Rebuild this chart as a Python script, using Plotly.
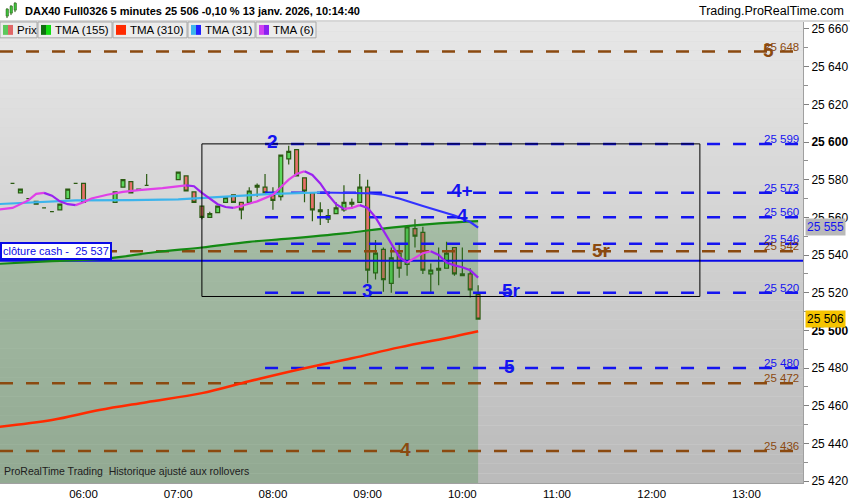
import plotly.graph_objects as go

DAY = "2026-01-13 "

# ---------------- data ----------------
candle_times = ["05:15", "05:20", "05:25", "05:30", "05:35", "05:40", "05:45", "05:50", "05:55", "06:00",
                "06:20", "06:25", "06:30", "06:35", "06:40",
                "07:00", "07:05", "07:10", "07:15", "07:20", "07:25", "07:30", "07:35", "07:40", "07:45", "07:50", "07:55",
                "08:00", "08:05", "08:10", "08:15", "08:20", "08:25", "08:30", "08:35", "08:40", "08:45", "08:50", "08:55",
                "09:00", "09:05", "09:10", "09:15", "09:20", "09:25", "09:30", "09:35", "09:40", "09:45", "09:50", "09:55",
                "10:00", "10:05", "10:10"]
opens = [25578, 25573, 25570, 25568.5, 25565, 25563, 25564, 25570, 25578, 25578,
         25568, 25576, 25579, 25575, 25577,
         25580, 25582, 25573.5, 25566, 25560, 25562.5, 25568, 25572, 25568, 25568, 25577, 25576,
         25571.5, 25571, 25591, 25596, 25581, 25573, 25563, 25559, 25562, 25564, 25567, 25568,
         25576, 25530.5, 25543, 25525, 25541, 25535, 25554, 25552, 25530, 25532, 25533, 25544,
         25530, 25530, 25519]
highs = [25578, 25575, 25570, 25568.5, 25565, 25563, 25567, 25575, 25578, 25578,
         25573.5, 25580, 25579, 25575, 25583,
         25584, 25582, 25573.5, 25566, 25563, 25566, 25570.5, 25572, 25568, 25576, 25578, 25583,
         25576, 25593, 25598, 25596, 25581, 25573, 25568, 25564.5, 25568, 25577, 25570, 25583,
         25580, 25548, 25544, 25544, 25546, 25555, 25559, 25555, 25535.5, 25544, 25547, 25544,
         25544, 25533, 25524]
lows = [25578, 25573, 25570, 25567, 25565, 25563, 25564, 25570, 25578, 25568,
        25568, 25576, 25573, 25574.5, 25577,
        25580, 25574, 25568, 25559, 25560, 25562.5, 25568, 25568, 25559, 25568, 25571, 25573,
        25564, 25569, 25588, 25582, 25568, 25558, 25556, 25557, 25562, 25563, 25564.5, 25568,
        25525, 25527, 25520.5, 25520, 25528, 25529, 25544, 25530, 25520, 25524, 25533, 25529,
        25529, 25517.5, 25506]
closes = [25578, 25575, 25570, 25567, 25565, 25563, 25567, 25575, 25578, 25568,
          25573.5, 25580, 25573, 25574.5, 25577,
          25584, 25574, 25568, 25560, 25562, 25566, 25570.5, 25568, 25564, 25574, 25576, 25573,
          25569, 25593, 25595, 25582, 25574, 25564, 25564, 25561, 25565, 25568, 25568, 25576,
          25532, 25541, 25527, 25538.5, 25533, 25555, 25550, 25532, 25532, 25533, 25541, 25530,
          25529, 25521.5, 25506]

tma6_times = ["05:05", "05:15", "05:25", "05:30", "05:35", "05:40", "05:45", "05:50", "05:55", "06:00",
              "06:05", "06:15", "06:25", "06:35", "06:50", "07:05", "07:10", "07:15", "07:20", "07:25",
              "07:30", "07:35", "07:40", "07:50", "08:00", "08:05", "08:10", "08:15", "08:20", "08:25",
              "08:30", "08:35", "08:40", "08:45", "08:50", "08:55", "09:00", "09:05", "09:10", "09:15",
              "09:20", "09:25", "09:30", "09:35", "09:40", "09:45", "09:50", "09:55", "10:00", "10:05", "10:10"]
tma6_vals = [25564, 25565, 25569, 25572.5, 25573, 25571.5, 25568.5, 25567, 25566.5, 25568,
             25570, 25572, 25573.5, 25574.5, 25575.5, 25577, 25576.5, 25573, 25570, 25567,
             25565.5, 25565, 25566, 25568.5, 25572, 25576, 25580, 25583, 25584.5, 25582.5,
             25578, 25572, 25567, 25564.5, 25565, 25566.5, 25565, 25560, 25553, 25546,
             25539, 25536, 25538.5, 25541, 25542, 25540, 25536, 25534.5, 25533.5, 25532, 25528]

tma31_times = ["05:05", "05:30", "05:55", "06:30", "07:00", "07:30", "08:00", "08:30", "08:45", "09:00",
               "09:10", "09:20", "09:35", "09:45", "09:55", "10:05", "10:10"]
tma31_vals = [25567, 25568, 25569, 25569.2, 25569.6, 25571, 25572.5, 25573.2, 25573.0, 25572.8,
              25572, 25570, 25566, 25563.5, 25561, 25557.5, 25554.5]

tma155_times = ["05:05", "05:40", "06:15", "06:45", "07:15", "07:45", "08:10", "08:45", "09:15", "09:45", "10:10"]
tma155_vals = [25535.3, 25536.8, 25538.2, 25541.5, 25544, 25547, 25548.7, 25551.5, 25554.6, 25556.8, 25558]

tma310_times = ["05:05", "05:40", "06:10", "06:40", "07:15", "07:45", "08:20", "08:50", "09:20", "09:55", "10:10"]
tma310_vals = [25448.7, 25452.4, 25457.7, 25461.9, 25466.7, 25473, 25479.9, 25485.2, 25491, 25496.8, 25499.5]

brown_levels = [25648, 25542, 25472, 25436]
blue_levels = [25599, 25573, 25560, 25546, 25520, 25480]
cash_close = 25537
blue_start = "07:55"
box_times = ["07:15", "12:30:30"]
box_prices = [25518, 25599]
last_price = 25506
tma_mark = 25555

blue_marks = [("2", "08:00", 25599), ("4+", "09:59:30", 25573), ("4", "10:00", 25560),
              ("3", "09:00", 25520), ("5r", "10:31", 25520), ("5", "10:30", 25480)]
brown_marks = [("5", "13:14", 25648), ("5r", "11:28", 25542), ("4", "09:24", 25436)]

y_ticks = list(range(25420, 25661, 20))
x_ticks = ["06:00", "07:00", "08:00", "09:00", "10:00", "11:00", "12:00", "13:00"]

# ---------------- layout helpers ----------------
W, H = 850, 500
ML, MR, MT, MB = 0, 47, 22, 12
PW, PH = W - ML - MR, H - MT - MB
FONT = "Liberation Sans, Arial, sans-serif"


def T(s):
    return DAY + s + (":00" if len(s) == 5 else "")


def px(x):
    return (x - ML) / PW


def py(y):
    return (H - MB - y) / PH


X0, X1 = T("05:07:05"), T("13:35:50")
Y0, Y1 = 25419.0, 25663.7

BLUE = "#1414f0"
BROWN = "#8b4a10"

fig = go.Figure()
shapes = []
annotations = []

# gradient background
N = 48
for i in range(N):
    f = i / (N - 1)
    c = int(231 - f * 44)
    shapes.append(dict(type="rect", xref="paper", yref="paper", x0=0, x1=1,
                       y0=1 - (i + 1) / N, y1=1 - i / N, fillcolor=f"rgb({c},{c},{c})",
                       line=dict(width=0), layer="below"))

# TMA155 shaded area
fig.add_trace(go.Scatter(x=[T(t) for t in tma155_times], y=tma155_vals, mode="none",
                         fill="tozeroy", fillcolor="rgba(40,125,40,0.27)", hoverinfo="skip",
                         line_shape="spline"))

# brown levels
for lv in brown_levels:
    fig.add_trace(go.Scatter(x=[X0, X1], y=[lv, lv], mode="lines",
                             line=dict(color=BROWN, width=2.5, dash="13px,13px"), hoverinfo="skip"))
# blue levels
for lv in blue_levels:
    fig.add_trace(go.Scatter(x=[T(blue_start), X1], y=[lv, lv], mode="lines",
                             line=dict(color=BLUE, width=2.5, dash="13px,13px"), hoverinfo="skip"))

# cash close line
fig.add_trace(go.Scatter(x=[X0, X1], y=[cash_close, cash_close], mode="lines",
                         line=dict(color="#0a0ae6", width=2), hoverinfo="skip"))

# TMA310 and TMA155 lines
fig.add_trace(go.Scatter(x=[T(t) for t in tma310_times], y=tma310_vals, mode="lines",
                         line=dict(color="#ff2a00", width=2.5, shape="spline"), hoverinfo="skip"))
fig.add_trace(go.Scatter(x=[T(t) for t in tma155_times], y=tma155_vals, mode="lines",
                         line=dict(color="#138a13", width=2.2, shape="spline"), hoverinfo="skip"))

# candles
fig.add_trace(go.Candlestick(
    x=[T(t) for t in candle_times], open=opens, high=highs, low=lows, close=closes,
    increasing=dict(line=dict(color="#2b5a12", width=1.2), fillcolor="#5cd65c"),
    decreasing=dict(line=dict(color="#2b5a12", width=1.2), fillcolor="#e8706a"),
    whiskerwidth=0, hoverinfo="skip"))


def slope_runs(times, vals):
    """split polyline into rising and falling runs"""
    up_x, up_y, dn_x, dn_y = [], [], [], []
    prev = None
    for i in range(len(vals) - 1):
        rising = vals[i + 1] > vals[i]
        tx, ty = (up_x, up_y) if rising else (dn_x, dn_y)
        if prev is None or prev != rising:
            if tx:
                tx.append(None)
                ty.append(None)
            tx.append(T(times[i]))
            ty.append(vals[i])
        tx.append(T(times[i + 1]))
        ty.append(vals[i + 1])
        prev = rising
    return up_x, up_y, dn_x, dn_y


ux, uy, dx, dy = slope_runs(tma31_times, tma31_vals)
fig.add_trace(go.Scatter(x=ux, y=uy, mode="lines", line=dict(color="#3cb4ec", width=2.2),
                         hoverinfo="skip", connectgaps=False))
fig.add_trace(go.Scatter(x=dx, y=dy, mode="lines", line=dict(color="#3232ff", width=2.2),
                         hoverinfo="skip", connectgaps=False))
ux, uy, dx, dy = slope_runs(tma6_times, tma6_vals)
fig.add_trace(go.Scatter(x=ux, y=uy, mode="lines", line=dict(color="#e040e8", width=2.2),
                         hoverinfo="skip", connectgaps=False))
fig.add_trace(go.Scatter(x=dx, y=dy, mode="lines", line=dict(color="#9a22f0", width=2.2),
                         hoverinfo="skip", connectgaps=False))

# rectangle
shapes.append(dict(type="rect", xref="x", yref="y", x0=T(box_times[0]), x1=T(box_times[1]),
                   y0=box_prices[0], y1=box_prices[1], line=dict(color="black", width=1)))

# level labels
for lv in blue_levels:
    annotations.append(dict(xref="paper", yref="y", x=px(801), y=lv, xanchor="right", yanchor="bottom",
                            text=f"{lv // 1000} {lv % 1000:03d}", showarrow=False, yshift=-3,
                            font=dict(family=FONT, size=11.5, color=BLUE)))
for lv in brown_levels:
    annotations.append(dict(xref="paper", yref="y", x=px(801), y=lv, xanchor="right", yanchor="bottom",
                            text=f"{lv // 1000} {lv % 1000:03d}", showarrow=False, yshift=-3,
                            font=dict(family=FONT, size=11.5, color=BROWN)))
for txt, t, lv in blue_marks:
    annotations.append(dict(xref="x", yref="y", x=T(t), y=lv, text=f"<b>{txt}</b>", showarrow=False,
                            yshift=2, font=dict(family=FONT, size=19, color=BLUE)))
for txt, t, lv in brown_marks:
    annotations.append(dict(xref="x", yref="y", x=T(t), y=lv, text=f"<b>{txt}</b>", showarrow=False,
                            yshift=1, font=dict(family=FONT, size=19, color=BROWN)))

# cash label
annotations.append(dict(xref="paper", yref="y", x=0, y=cash_close, xanchor="left", yanchor="bottom",
                        text=f"clôture cash -  {cash_close // 1000} {cash_close % 1000:03d}", showarrow=False,
                        bgcolor="white", bordercolor="#0a0ae6", borderwidth=2, borderpad=1, yshift=1,
                        font=dict(family=FONT, size=11, color="#0a0ae6")))

# right axis badges
annotations.append(dict(xref="paper", yref="y", x=1.0, y=tma_mark, xanchor="left", yanchor="middle",
                        text=f"{tma_mark // 1000} {tma_mark % 1000:03d}", showarrow=False, xshift=2,
                        bgcolor="#b9b9b9", borderpad=1, font=dict(family=FONT, size=12, color=BLUE)))
annotations.append(dict(xref="paper", yref="y", x=1.0, y=last_price, xanchor="left", yanchor="middle",
                        text=f"{last_price // 1000} {last_price % 1000:03d}", showarrow=False, xshift=2,
                        bgcolor="#f5c400", borderpad=1, font=dict(family=FONT, size=12, color="black")))

# title bar
shapes.append(dict(type="line", xref="paper", yref="paper", x0=px(0), x1=px(W), y0=py(21), y1=py(21),
                   line=dict(color="#b0b0b0", width=1)))
annotations.append(dict(xref="paper", yref="paper", x=px(23), y=py(11), xanchor="left", yanchor="middle",
                        text="<b>DAX40 Full0326 5 minutes 25 506 -0,10 % 13 janv. 2026, 10:14:40</b>",
                        showarrow=False, font=dict(family=FONT, size=11, color="black")))
annotations.append(dict(xref="paper", yref="paper", x=px(846), y=py(11), xanchor="right", yanchor="middle",
                        text="Trading.ProRealTime.com", showarrow=False,
                        font=dict(family=FONT, size=12.5, color="black")))
# icon
for (x0, y0, y1, c) in [(6, 9, 16, "#3cbf3c"), (10, 6, 13, "#3cbf3c"), (14, 3, 10, "#3cbf3c")]:
    shapes.append(dict(type="line", xref="paper", yref="paper", x0=px(x0 + 1), x1=px(x0 + 1),
                       y0=py(y0 - 1), y1=py(y1 + 2), line=dict(color="#2b5a12", width=1)))
    shapes.append(dict(type="rect", xref="paper", yref="paper", x0=px(x0), x1=px(x0 + 2.5),
                       y0=py(y0), y1=py(y1), fillcolor=c, line=dict(color="#2b5a12", width=0.5)))

# legend row
cells = [("Prix", 0, 37, ("#5cc85c", "#e06666")),
         ("TMA (155)", 38, 112, ("#0f6e0f", "#11dd11")),
         ("TMA (310)", 113, 187, ("#ff2a00", "#ff2a00")),
         ("TMA (31)", 188, 255, ("#3cb4ec", "#2020ff")),
         ("TMA (6)", 256, 316, ("#d040f0", "#8a20f0"))]
for name, a, b, (c1, c2) in cells:
    shapes.append(dict(type="rect", xref="paper", yref="paper", x0=px(a), x1=px(b), y0=py(38), y1=py(22),
                       fillcolor="#ececec", line=dict(color="#a8a8a8", width=1)))
    shapes.append(dict(type="rect", xref="paper", yref="paper", x0=px(a + 3), x1=px(a + 8), y0=py(35),
                       y1=py(25), fillcolor=c1, line=dict(width=0)))
    shapes.append(dict(type="rect", xref="paper", yref="paper", x0=px(a + 8), x1=px(a + 13), y0=py(35),
                       y1=py(25), fillcolor=c2, line=dict(width=0)))
    annotations.append(dict(xref="paper", yref="paper", x=px(a + 15), y=py(30), xanchor="left",
                            yanchor="middle", text=name, showarrow=False,
                            font=dict(family=FONT, size=11.5, color="black")))

# footer text
annotations.append(dict(xref="paper", yref="paper", x=px(2), y=py(476), xanchor="left", yanchor="middle",
                        text="ProRealTime Trading  Historique ajusté aux rollovers", showarrow=False,
                        font=dict(family=FONT, size=10.5, color="#202020")))

ticktext = []
for v in y_ticks:
    s = f"{v // 1000} {v % 1000:03d}"
    ticktext.append(f"<b>{s}</b>" if v % 100 == 0 else s)

fig.update_layout(
    width=W, height=H, margin=dict(l=ML, r=MR, t=MT, b=MB),
    paper_bgcolor="white", plot_bgcolor="#d8d8d8", showlegend=False,
    shapes=shapes, annotations=annotations,
    font=dict(family=FONT, size=12, color="black"),
    xaxis=dict(type="date", range=[X0, X1], rangeslider=dict(visible=False), showgrid=False, zeroline=False,
               tickmode="array", tickvals=[T(t) for t in x_ticks], ticktext=x_ticks,
               tickfont=dict(family=FONT, size=11.5, color="black"), ticks="",
               showline=True, linecolor="#a0a0a0", linewidth=1),
    yaxis=dict(side="right", range=[Y0, Y1], showgrid=False, zeroline=False, tickmode="array",
               tickvals=y_ticks, ticktext=ticktext, ticks="outside", ticklen=5, tickcolor="#808080",
               tickfont=dict(family=FONT, size=12, color="black"),
               showline=True, linecolor="#a0a0a0", linewidth=1,
               minor=dict(tickmode="linear", tick0=25410, dtick=20, ticks="outside", ticklen=4,
                          tickcolor="#909090")),
)

fig.write_html("out.html", config={"displayModeBar": False},
               post_script="document.body.style.margin='0px';document.body.style.overflow='hidden';")
